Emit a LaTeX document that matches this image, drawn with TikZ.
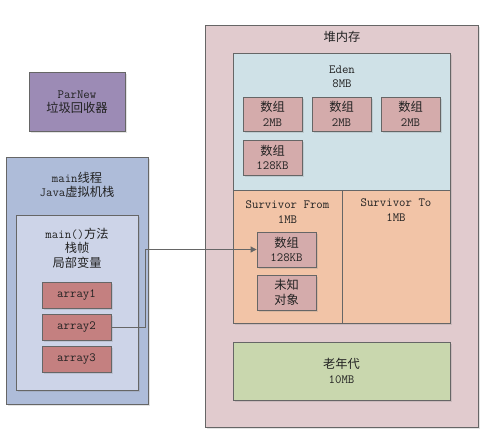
\documentclass[tikz,border=0pt]{standalone}
\usepackage{fontspec}
\newfontfamily\cjk[Scale=0.98]{Noto Sans CJK SC}
\usetikzlibrary{arrows.meta,shadows}
\definecolor{lineC}{HTML}{666666}
\definecolor{heapC}{HTML}{E1CBCE}
\definecolor{edenC}{HTML}{CFE1E7}
\definecolor{survC}{HTML}{F2C4A7}
\definecolor{objC}{HTML}{D4ABAB}
\definecolor{varC}{HTML}{C48080}
\definecolor{oldC}{HTML}{C9D7AE}
\definecolor{gcC}{HTML}{9C8BB5}
\definecolor{stackC}{HTML}{AEBCD9}
\definecolor{frameC}{HTML}{CDD4E8}
\definecolor{txtC}{HTML}{222222}
\tikzset{
  box/.style={draw=lineC, line width=0.8pt, rectangle, inner sep=0pt,
    drop shadow={shadow xshift=1.5pt, shadow yshift=-1.5pt, opacity=0.22}},
  lbl/.style={align=center, text=txtC, inner sep=0pt,
    font=\ttfamily\fontsize{12.5}{14.5}\selectfont},
  conn/.style={draw=lineC, line width=0.8pt, -{Triangle[length=6pt,width=6pt]}}
}
\begin{document}
\begin{tikzpicture}[x=1pt,y=-1pt]
\useasboundingbox (0,0) rectangle (494,431);
% left side
\node[box, fill=gcC, minimum width=96pt, minimum height=59pt] (gc) at (77,101.5) {};
\node[lbl] (gct) at (77,102) {ParNew\\\cjk 垃圾回收器};
\node[box, fill=stackC, minimum width=142pt, minimum height=247pt] (stack) at (77,280.5) {};
\node[lbl] (stackt) at (77,185) {main{\cjk 线程}\\Java{\cjk 虚拟机栈}};
\node[box, fill=frameC, minimum width=122pt, minimum height=175pt] (frame) at (77,302.5) {};
\node[lbl] (framet) at (77,248) {main(){\cjk 方法}\\\cjk 栈帧\\\cjk 局部变量};
\node[box, fill=varC, minimum width=69pt, minimum height=26pt, lbl] (a1) at (76.5,295) {array1};
\node[box, fill=varC, minimum width=69pt, minimum height=26pt, lbl] (a2) at (76.5,327) {array2};
\node[box, fill=varC, minimum width=69pt, minimum height=26pt, lbl] (a3) at (76.5,359) {array3};
% heap
\node[box, fill=heapC, minimum width=273pt, minimum height=402pt] (heap) at (341.5,226) {};
\node[lbl] (heapt) at (342,37) {\cjk 堆内存};
\node[box, fill=edenC, minimum width=217pt, minimum height=137pt] (eden) at (341.5,121.5) {};
\node[lbl] (edent) at (342,77) {Eden\\8MB};
\node[box, fill=objC, minimum width=59pt, minimum height=34pt, lbl] (e1) at (272.5,114) {\cjk 数组\\2MB};
\node[box, fill=objC, minimum width=59pt, minimum height=34pt, lbl] (e2) at (341.5,114) {\cjk 数组\\2MB};
\node[box, fill=objC, minimum width=59pt, minimum height=34pt, lbl] (e3) at (410.5,114) {\cjk 数组\\2MB};
\node[box, fill=objC, minimum width=59pt, minimum height=35pt, lbl] (e4) at (272.5,157.5) {\cjk 数组\\128KB};
\node[box, fill=survC, minimum width=109pt, minimum height=133pt] (sfrom) at (287.5,256.5) {};
\node[box, fill=survC, minimum width=108pt, minimum height=133pt] (sto) at (396,256.5) {};
\node[lbl] (sfromt) at (287.5,212) {Survivor From\\1MB};
\node[lbl] (stot) at (396,210) {Survivor To\\1MB};
\node[box, fill=objC, minimum width=59pt, minimum height=35pt, lbl] (s128) at (286.5,249.5) {\cjk 数组\\128KB};
\node[box, fill=objC, minimum width=59pt, minimum height=35pt, lbl] (sunk) at (286.5,292.5) {\cjk 未知\\\cjk 对象};
\node[box, fill=oldC, minimum width=217pt, minimum height=58pt, lbl] (old) at (341.5,371) {\cjk 老年代\\10MB};
% connector
\coordinate (bend) at (145,327);
\draw[conn] (a2.east) -- (bend) |- (s128.west);
\end{tikzpicture}
\end{document}
